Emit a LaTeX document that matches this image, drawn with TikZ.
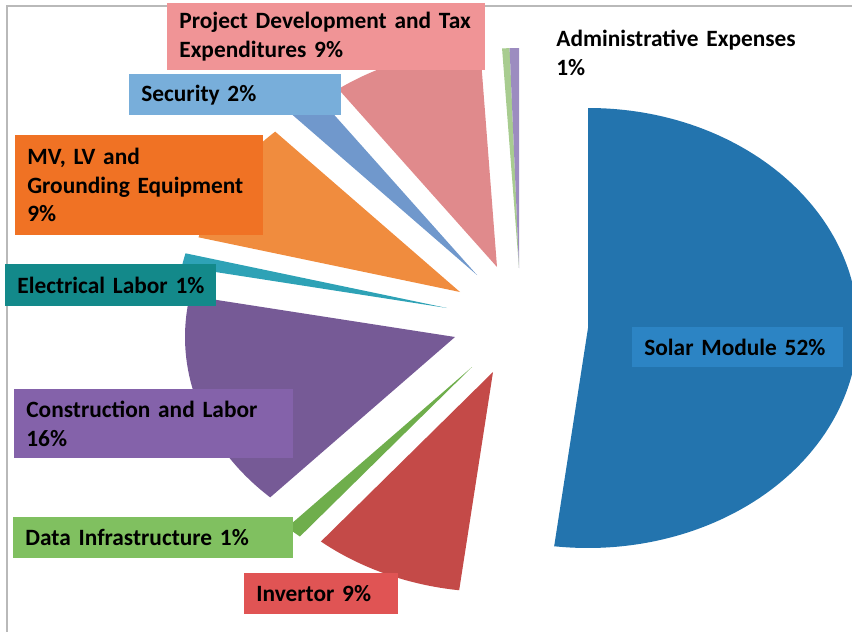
\documentclass[tikz,border=0pt]{standalone}
\usepackage{fontspec}
\setmainfont{Carlito}[WordSpace=0.8]
\usepackage{tikz}

\definecolor{solarc}{HTML}{2374AE}
\definecolor{solarbox}{HTML}{2C84C4}
\definecolor{invc}{HTML}{C44A48}
\definecolor{invbox}{HTML}{E05454}
\definecolor{datac}{HTML}{6FAE4C}
\definecolor{databox}{HTML}{80C060}
\definecolor{consc}{HTML}{765A96}
\definecolor{consbox}{HTML}{8462AA}
\definecolor{elecc}{HTML}{2EA2B6}
\definecolor{elecbox}{HTML}{13898A}
\definecolor{mvc}{HTML}{F08C3E}
\definecolor{mvbox}{HTML}{F07224}
\definecolor{secc}{HTML}{7098CC}
\definecolor{secbox}{HTML}{78AEDA}
\definecolor{projc}{HTML}{E08A8C}
\definecolor{projbox}{HTML}{F09496}
\definecolor{adminc}{HTML}{9C8CC0}
\definecolor{adming}{HTML}{A8CC90}

\newcommand{\lblfont}{\fontsize{13.3}{16.2}\selectfont\bfseries}

\tikzset{
  slice/.style={draw=none},
  lbox/.style={anchor=north west, inner xsep=0.24cm, inner ysep=0pt, align=left, font=\lblfont},
}

\begin{document}
\begin{tikzpicture}[x=0.02cm, y=-0.02cm]
	\useasboundingbox (0,0) rectangle (852,632);
	
	% frame of the chart area
	\draw[gray!55, line width=1.2pt] (7,632) -- (7,6) -- (852,6);
	
	% slices, pulled out from the centre
	\fill[slice, solarc] (588,328) -- ++(-90:270 and 220) arc[start angle=-90, end angle=97.2, x radius=270, y radius=220] -- cycle;
	\fill[slice, invc] (493,372) -- ++(97.2:270 and 220) arc[start angle=97.2, end angle=129.6, x radius=270, y radius=220] -- cycle;
	\fill[slice, datac] (472,367) -- ++(129.6:270 and 220) arc[start angle=129.6, end angle=133.2, x radius=270, y radius=220] -- cycle;
	\fill[slice, consc] (455,337) -- ++(133.2:270 and 220) arc[start angle=133.2, end angle=190.8, x radius=270, y radius=220] -- cycle;
	\fill[slice, elecc] (447,308) -- ++(190.8:270 and 220) arc[start angle=190.8, end angle=194.4, x radius=270, y radius=220] -- cycle;
	\fill[slice, mvc] (460,292) -- ++(194.4:270 and 220) arc[start angle=194.4, end angle=226.8, x radius=270, y radius=220] -- cycle;
	\fill[slice, secc] (477,275) -- ++(226.8:270 and 220) arc[start angle=226.8, end angle=234, x radius=270, y radius=220] -- cycle;
	\fill[slice, projc] (497,267) -- ++(234:270 and 220) arc[start angle=234, end angle=266.4, x radius=270, y radius=220] -- cycle;
	\fill[slice, adming] (519,268) -- ++(266.4:270 and 220) arc[start angle=266.4, end angle=268, x radius=270, y radius=220] -- cycle;
	\fill[slice, adminc] (519,268) -- ++(268:270 and 220) arc[start angle=268, end angle=270, x radius=270, y radius=220] -- cycle;
	
	% labels
	\node[lbox, fill=projbox, text width=5.88cm, minimum height=1.34cm] (projlbl) at (167,3) {Project Development and Tax\\Expenditures 9\%};
	\node[lbox, fill=secbox, text width=3.76cm, minimum height=0.82cm] (seclbl) at (129,74) {Security 2\%};
	\node[lbox, fill=mvbox, text width=4.48cm, minimum height=2.0cm] (mvlbl) at (15,135) {MV, LV and\\Grounding Equipment\\9\%};
	\node[lbox, fill=elecbox, text width=3.74cm, minimum height=0.84cm] (eleclbl) at (5,264) {\mbox{Electrical Labor 1\%}};
	\node[lbox, fill=consbox, text width=5.10cm, minimum height=1.38cm] (conslbl) at (14,389) {Construction and Labor\\16\%};
	\node[lbox, fill=databox, text width=5.12cm, minimum height=0.82cm] (datalbl) at (13,517) {Data Infrastructure 1\%};
	\node[lbox, fill=invbox, text width=2.60cm, minimum height=0.82cm] (invlbl) at (244,573) {Invertor 9\%};
	\node[lbox, fill=solarbox, text width=3.74cm, minimum height=0.80cm] (solarlbl) at (632,327) {Solar Module 52\%};
	\node[lbox, fill=white, text width=4.88cm, minimum height=1.3cm] (adminlbl) at (544,20) {Administrative Expenses\\1\%};
\end{tikzpicture}
\end{document}
